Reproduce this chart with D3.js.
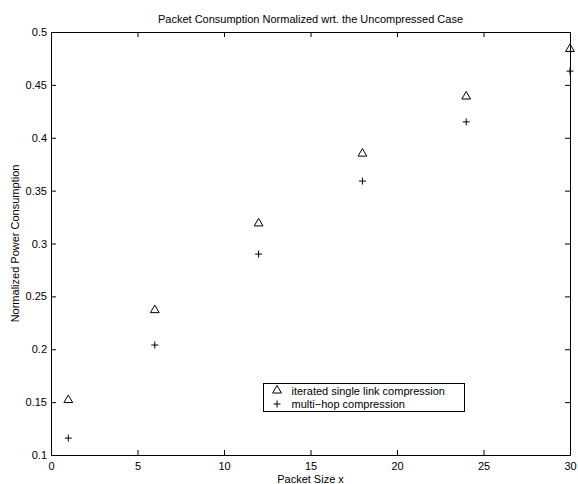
<!DOCTYPE html>
<html>
<head>
<meta charset="utf-8">
<script src="https://cdn.jsdelivr.net/npm/d3@7.9.0/dist/d3.min.js"></script>
<style>
  body { margin: 0; background: #fff; }
  svg { display: block; }
  text { font-family: "Liberation Sans", Arial, sans-serif; fill: #000; }
</style>
</head>
<body>
<svg id="chart" width="578" height="484"></svg>
<script>
// Data
const packetSizes = [1, 6, 12, 18, 24, 30];
const iteratedSingleLink = [0.152, 0.237, 0.319, 0.385, 0.439, 0.484];
const multiHop = [0.116, 0.204, 0.290, 0.359, 0.415, 0.463];
const xTicks = [0, 5, 10, 15, 20, 25, 30];
const yTicks = [0.1, 0.15, 0.2, 0.25, 0.3, 0.35, 0.4, 0.45, 0.5];
const seriesNames = ['iterated single link compression', 'multi\u2212hop compression'];

const svg = d3.select('#chart');
const mLeft = 51, mRight = 570, mTop = 32, mBottom = 455;

const x = d3.scaleLinear().domain([0, 30]).range([mLeft, mRight]);
const y = d3.scaleLinear().domain([0.1, 0.5]).range([mBottom, mTop]);

// Axes, ticks point inwards like the original
const tickLen = 5;
svg.append('g').attr('transform', `translate(0,${mBottom})`)
    .call(d3.axisBottom(x).tickValues(xTicks).tickSizeInner(-tickLen).tickSizeOuter(0).tickPadding(7));
svg.append('g').attr('transform', `translate(0,${mTop})`)
    .call(d3.axisTop(x).tickValues(xTicks).tickSizeInner(-tickLen).tickSizeOuter(0).tickFormat(''));
svg.append('g').attr('transform', `translate(${mLeft},0)`)
    .call(d3.axisLeft(y).tickValues(yTicks).tickSizeInner(-tickLen).tickSizeOuter(0).tickPadding(4).tickFormat(d3.format('')));
svg.append('g').attr('transform', `translate(${mRight},0)`)
    .call(d3.axisRight(y).tickValues(yTicks).tickSizeInner(-tickLen).tickSizeOuter(0).tickFormat(''));

svg.selectAll('.domain').attr('stroke', '#000').attr('stroke-width', 1);
svg.selectAll('.tick line').attr('stroke', '#000');
svg.selectAll('.tick text').attr('font-size', 11).attr('font-family', '"Liberation Sans", Arial, sans-serif');

// Titles
svg.append('text').attr('x', (mLeft + mRight) / 2).attr('y', 23)
    .attr('text-anchor', 'middle').attr('font-size', 11)
    .text('Packet Consumption Normalized wrt. the Uncompressed Case');
svg.append('text').attr('x', (mLeft + mRight) / 2).attr('y', 483)
    .attr('text-anchor', 'middle').attr('font-size', 11)
    .text('Packet Size x');
svg.append('text').attr('transform', `translate(19,${(mTop + mBottom) / 2}) rotate(-90)`)
    .attr('text-anchor', 'middle').attr('font-size', 11)
    .text('Normalized Power Consumption');

// Markers
const tri = d3.symbol().type(d3.symbolTriangle).size(33);

function drawPlus(g, cx, cy) {
    g.append('path')
        .attr('d', `M${cx - 3.5},${cy}H${cx + 3.5}M${cx},${cy - 3.5}V${cy + 3.5}`)
        .attr('stroke', '#000').attr('fill', 'none');
}

svg.append('g').selectAll('path')
    .data(packetSizes.map((p, i) => [p, iteratedSingleLink[i]]))
    .join('path')
    .attr('d', tri)
    .attr('transform', d => `translate(${x(d[0])},${y(d[1])})`)
    .attr('fill', 'none').attr('stroke', '#000');

const plusG = svg.append('g');
packetSizes.forEach((p, i) => drawPlus(plusG, x(p), y(multiHop[i])));

// Legend
const lg = svg.append('g').attr('transform', 'translate(263.5,383.5)');
lg.append('rect').attr('width', 201).attr('height', 28)
    .attr('fill', '#fff').attr('stroke', '#000');
lg.append('path').attr('d', tri).attr('transform', 'translate(13.5,7)')
    .attr('fill', 'none').attr('stroke', '#000');
drawPlus(lg, 13.5, 20.5);
seriesNames.forEach((n, i) => {
    lg.append('text').attr('x', 28).attr('y', 11 + i * 13.5)
        .attr('font-size', 11).text(n);
});
</script>
</body>
</html>
